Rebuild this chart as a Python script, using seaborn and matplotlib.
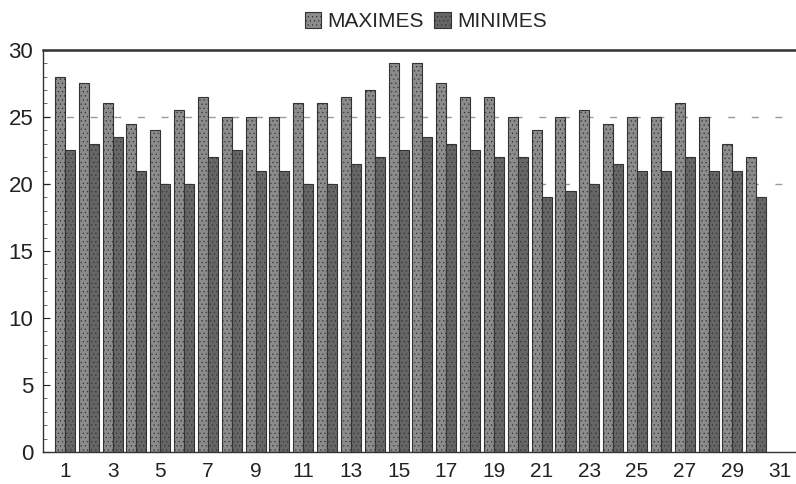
import pandas as pd
import matplotlib
matplotlib.use("Agg")
import matplotlib.pyplot as plt
import seaborn as sns

# Daily temperatures (days 1-30, day 31 left empty)
days = list(range(1, 31))
maximes = [28, 27.5, 26, 24.5, 24, 25.5, 26.5, 25, 25, 25,
           26, 26, 26.5, 27, 29, 29, 27.5, 26.5, 26.5, 25,
           24, 25, 25.5, 24.5, 25, 25, 26, 25, 23, 22]
minimes = [22.5, 23, 23.5, 21, 20, 20, 22, 22.5, 21, 21,
           20, 20, 21.5, 22, 22.5, 23.5, 23, 22.5, 22, 22,
           19, 19.5, 20, 21.5, 21, 21, 22, 21, 21, 19]
all_days = list(range(1, 32))
tick_days = list(range(1, 32, 2))
y_ticks = [0, 5, 10, 15, 20, 25, 30]
grid_levels = [20, 25]

df = pd.DataFrame({
    "day": days * 2,
    "serie": ["MAXIMES"] * len(days) + ["MINIMES"] * len(days),
    "temp": maximes + minimes,
})

sns.set_style("white")
plt.rcParams["font.family"] = ["Liberation Sans", "DejaVu Sans"]
plt.rcParams["hatch.color"] = "#a4a4a4"
plt.rcParams["hatch.linewidth"] = 0.4

fig = plt.figure(figsize=(7.96, 4.84), dpi=100)
ax = fig.add_axes([0.054, 0.066, 0.946, 0.831])

for lvl in grid_levels:
    ax.axhline(lvl, color="#9a9a9a", lw=1, ls=(0, (5, 12)), zorder=0)

sns.barplot(data=df, x="day", y="temp", hue="serie", order=all_days,
            palette={"MAXIMES": "#8c8c8c", "MINIMES": "#666666"},
            width=0.84, gap=0, edgecolor="#333333", linewidth=0.8,
            errorbar=None, ax=ax, zorder=2)

for bar in ax.patches:
    bar.set_hatch("....")

ax.set_xlim(-0.92, 30.67)
ax.set_ylim(0, 30)
ax.set_yticks(y_ticks)
ax.set_yticks(range(0, 31), minor=True)
ax.set_xticks([all_days.index(d) for d in tick_days])
ax.set_xticklabels([str(d) for d in tick_days])
ax.tick_params(axis="y", which="major", direction="in", length=5, width=0.8,
               labelsize=16, colors="#222222", pad=7, left=True)
ax.tick_params(axis="y", which="minor", direction="in", length=3, width=0.6,
               color="#555555", left=True)
ax.tick_params(axis="x", length=0, labelsize=15, colors="#222222", pad=7)
ax.set_xlabel("")
ax.set_ylabel("")

for side in ["left", "bottom"]:
    ax.spines[side].set_color("#333333")
    ax.spines[side].set_linewidth(1)
ax.spines["top"].set_color("#333333")
ax.spines["top"].set_linewidth(1.8)
ax.spines["right"].set_visible(False)

handles, labels = ax.get_legend_handles_labels()
ax.get_legend().remove()
fig.legend(handles, labels, loc="center", bbox_to_anchor=(0.535, 0.955),
           ncol=2, frameon=False, fontsize=15, handlelength=0.8,
           handleheight=0.8, handletextpad=0.3, columnspacing=0.5)

fig.savefig("out.png", dpi=100)
